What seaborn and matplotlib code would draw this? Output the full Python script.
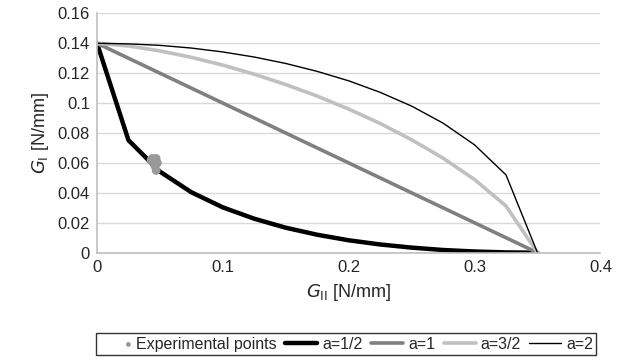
import numpy as np
import pandas as pd
import matplotlib
matplotlib.use("Agg")
import matplotlib.pyplot as plt
from matplotlib.legend_handler import HandlerPathCollection
import seaborn as sns

# G_II values along the criterion curves [N/mm]
g2 = [0, 0.025, 0.05, 0.075, 0.1, 0.125, 0.15, 0.175, 0.2, 0.225, 0.25, 0.275, 0.3, 0.325, 0.35]

# G_I for each exponent a
g1_half = [0.14, 0.0752, 0.0542, 0.0404, 0.0303, 0.0227, 0.0167, 0.0120, 0.0083, 0.0055,
           0.0034, 0.0018, 0.0008, 0.0002, 0]
g1_one = [0.14, 0.13, 0.12, 0.11, 0.10, 0.09, 0.08, 0.07, 0.06, 0.05, 0.04, 0.03, 0.02, 0.01, 0]
g1_threehalf = [0.14, 0.1382, 0.1349, 0.1306, 0.1254, 0.1193, 0.1124, 0.1047, 0.0960, 0.0864,
                0.0755, 0.0632, 0.0489, 0.0312, 0]
g1_two = [0.14, 0.1396, 0.1386, 0.1368, 0.1342, 0.1308, 0.1265, 0.1212, 0.1149, 0.1072,
          0.0980, 0.0866, 0.0721, 0.0520, 0]

# experimental points
exp_g2 = [0.043, 0.044, 0.045, 0.047, 0.048, 0.046, 0.047]
exp_g1 = [0.062, 0.063, 0.061, 0.063, 0.060, 0.058, 0.055]


class DotRight(HandlerPathCollection):
    # put the single legend dot next to its text, like the original
    def get_xdata(self, legend, xdescent, ydescent, width, height, fontsize):
        x = [-xdescent + width - 2]
        return x, x


sns.set_style("white")
plt.rcParams['font.family'] = ['Liberation Sans', 'DejaVu Sans']

fig, ax = plt.subplots(figsize=(6.34, 3.61), dpi=100)
fig.subplots_adjust(left=0.153, right=0.947, top=0.963, bottom=0.3)

sns.scatterplot(x=exp_g2, y=exp_g1, ax=ax, color="#999999", s=40, edgecolor="none",
                label="Experimental points", zorder=5)
sns.lineplot(x=g2, y=g1_half, ax=ax, color="black", linewidth=3.2, label="a=1/2")
sns.lineplot(x=g2, y=g1_one, ax=ax, color="#808080", linewidth=2.6, label="a=1")
sns.lineplot(x=g2, y=g1_threehalf, ax=ax, color="#c0c0c0", linewidth=2.6, label="a=3/2")
sns.lineplot(x=g2, y=g1_two, ax=ax, color="black", linewidth=1.0, label="a=2")

ax.set_xlim(0, 0.4)
ax.set_ylim(0, 0.16)
ax.set_xticks([0, 0.1, 0.2, 0.3, 0.4])
ax.set_xticklabels(["0", "0.1", "0.2", "0.3", "0.4"])
ax.set_yticks([0, 0.02, 0.04, 0.06, 0.08, 0.1, 0.12, 0.14, 0.16])
ax.set_yticklabels(["0", "0.02", "0.04", "0.06", "0.08", "0.1", "0.12", "0.14", "0.16"])
ax.tick_params(labelsize=12, length=0, pad=5)
ax.yaxis.grid(True, color="#d9d9d9", linewidth=1)
ax.set_axisbelow(True)
for s in ["top", "right"]:
    ax.spines[s].set_visible(False)
ax.spines["left"].set_color("#bfbfbf")
ax.spines["bottom"].set_color("#bfbfbf")
ax.spines["left"].set_linewidth(1.2)
ax.spines["bottom"].set_linewidth(1.2)

ax.set_xlabel(r"$G_{\mathrm{II}}$ [N/mm]", fontsize=13, labelpad=5)
ax.set_ylabel(r"$G_{\mathrm{I}}$ [N/mm]", fontsize=13, labelpad=5)

handles, labels = ax.get_legend_handles_labels()
ax.get_legend().remove()
leg = fig.legend(handles, labels, loc="lower center", bbox_to_anchor=(0.546, -0.005), ncol=5,
                 frameon=True, fontsize=11.5, handlelength=2.0, handletextpad=0.3,
                 columnspacing=0.55, borderpad=0.2, fancybox=False, markerscale=0.55,
                 handler_map={type(handles[0]): DotRight(numpoints=1)})
leg.get_frame().set_edgecolor("black")
leg.get_frame().set_linewidth(1.0)

fig.savefig("out.png", dpi=100)
